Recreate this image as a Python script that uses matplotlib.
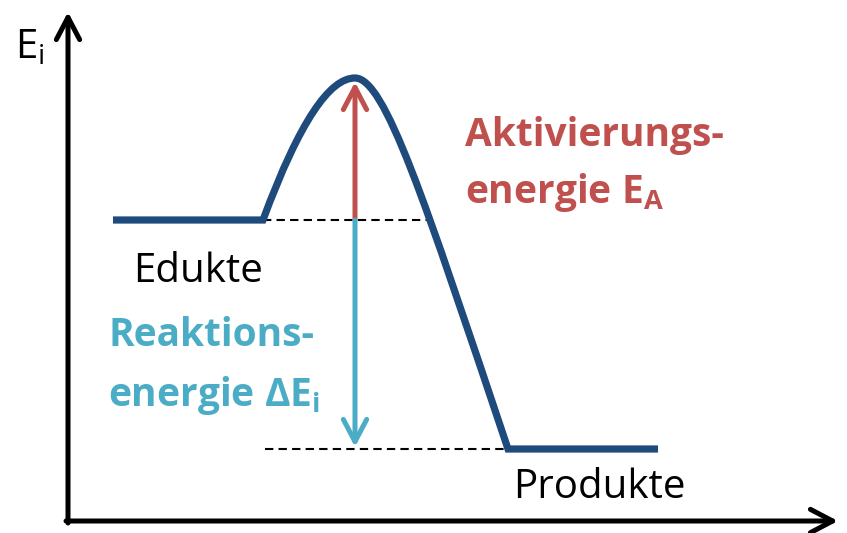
import matplotlib
matplotlib.use("Agg")
import matplotlib.pyplot as plt
from matplotlib.path import Path
from matplotlib.patches import PathPatch

plt.rcParams["font.family"] = ["Open Sans", "DejaVu Sans"]
plt.rcParams["mathtext.fontset"] = "custom"
plt.rcParams["mathtext.rm"] = "Open Sans"
plt.rcParams["mathtext.bf"] = "Open Sans:bold"

# --- schematic energy levels (pixel-like scale, y grows downward) ---
EDUKT_X = [113, 263]
EDUKT_E = 220
PRODUKT_X = [508, 658]
PRODUKT_E = 449
PEAK_X, PEAK_E = 355, 78
CROSS_X = 430          # where the curve crosses the edukt level again
DASH_LOW_X = [265, 508]

NAVY = "#1f4a7c"
RED = "#c0504d"
CYAN = "#4bacc6"

fig = plt.figure(figsize=(8.47, 5.33), dpi=100)
ax = fig.add_axes([0, 0, 1, 1])
ax.set_xlim(0, 847); ax.set_ylim(533, 0)
ax.axis("off")

# axes arrows
def arrow(tail, tip, col, lw=3.6):
    ax.annotate("", xy=tip, xytext=tail,
                arrowprops=dict(arrowstyle="->,head_length=0.8,head_width=0.42",
                                lw=lw, color=col, shrinkA=0, shrinkB=0,
                                mutation_scale=20, capstyle="round", joinstyle="round"))

arrow((68, 523), (68, 12), "black")
arrow((66, 521), (838, 521), "black")

# reaction curve: edukt plateau -> barrier -> product plateau
verts = [(EDUKT_X[0], EDUKT_E), (EDUKT_X[1], EDUKT_E),
         (300, 120), (330, PEAK_E), (PEAK_X, PEAK_E),
         (385, PEAK_E), (424, 199), (PRODUKT_X[0], PRODUKT_E),
         (PRODUKT_X[1], PRODUKT_E)]
codes = [Path.MOVETO, Path.LINETO,
         Path.CURVE4, Path.CURVE4, Path.CURVE4,
         Path.CURVE4, Path.CURVE4, Path.CURVE4,
         Path.LINETO]
ax.add_patch(PathPatch(Path(verts, codes), fill=False, ec=NAVY, lw=5.2,
                       joinstyle="miter", capstyle="butt", zorder=3))

# dashed reference levels
ax.plot([EDUKT_X[1], CROSS_X], [EDUKT_E, EDUKT_E], "--", color="black",
        lw=1.5, dashes=(4, 2.5), zorder=2)
ax.plot(DASH_LOW_X, [PRODUKT_E, PRODUKT_E], "--", color="black",
        lw=1.5, dashes=(4, 2.5), zorder=2)

# energy arrows
arrow((PEAK_X, EDUKT_E), (PEAK_X, PEAK_E + 4), RED)
arrow((PEAK_X, EDUKT_E), (PEAK_X, PRODUKT_E - 2), CYAN)

# labels
ax.text(15, 58, r"E$_\mathregular{i}$", fontsize=29, ha="left", va="baseline")
ax.text(133, 282, "Edukte", fontsize=29, ha="left", va="baseline")
ax.text(513, 498, "Produkte", fontsize=29, ha="left", va="baseline")
ax.text(465, 146, "Aktivierungs-", fontsize=28, fontweight="bold", color=RED,
        ha="left", va="baseline")
ax.text(465, 203, r"energie E$_\mathregular{A}$", fontsize=28, fontweight="bold",
        color=RED, ha="left", va="baseline")
ax.text(108, 346, "Reaktions-", fontsize=28, fontweight="bold", color=CYAN,
        ha="left", va="baseline")
ax.text(108, 406, r"energie ΔE$_\mathregular{i}$", fontsize=28, fontweight="bold",
        color=CYAN, ha="left", va="baseline")

fig.savefig("out.png", dpi=100)
